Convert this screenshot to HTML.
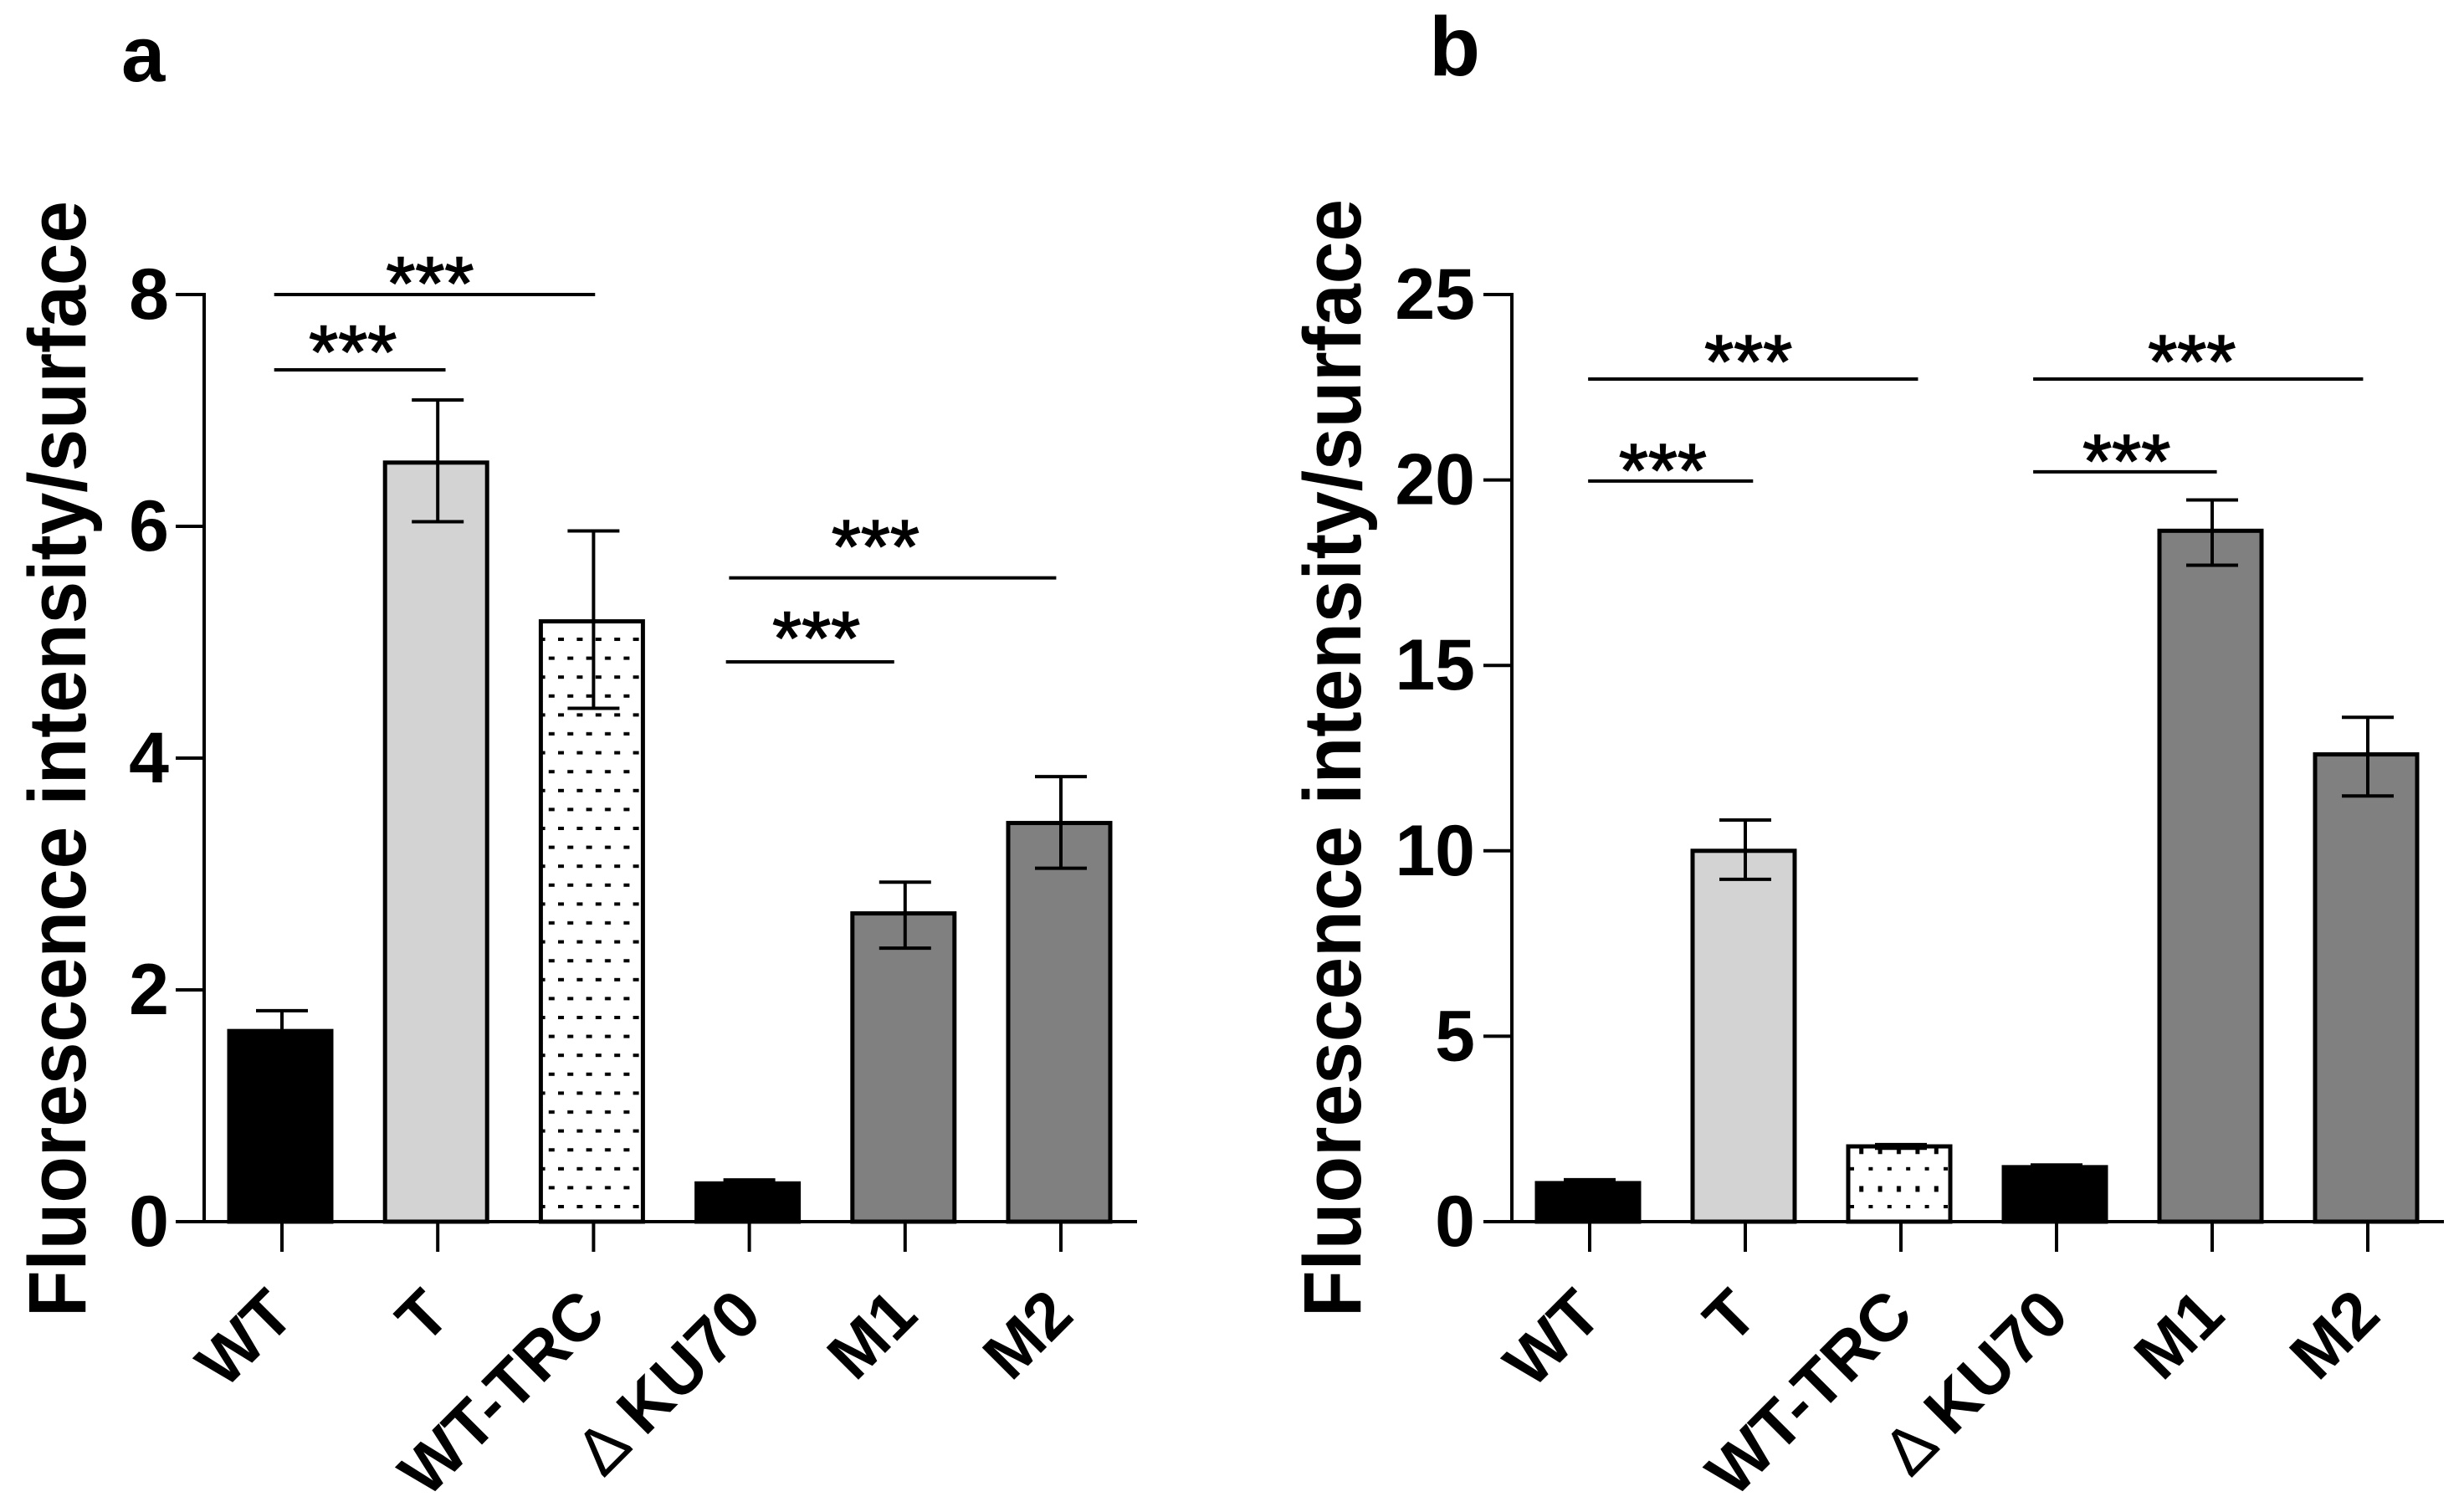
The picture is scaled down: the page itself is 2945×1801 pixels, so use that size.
<!DOCTYPE html>
<html>
<head>
<meta charset="utf-8">
<title>Fluorescence intensity per surface</title>
<style>
html,body{margin:0;padding:0;background:#fff;}
svg{display:block;}
text{font-family:"Liberation Sans",sans-serif;fill:#000;}
</style>
</head>
<body>
<svg id="figure" xmlns="http://www.w3.org/2000/svg" width="2945" height="1801" viewBox="0 0 2945 1801">
<defs>
<pattern id="dotsA" patternUnits="userSpaceOnUse" x="667" y="1440" width="22.4" height="45.2">
<rect x="0" y="0" width="7" height="4" fill="#000"/><rect x="11.2" y="22.6" width="7" height="4" fill="#000"/>
</pattern>
<pattern id="dotsB" patternUnits="userSpaceOnUse" x="2211" y="1440" width="22.4" height="45.2">
<rect x="0" y="0" width="5" height="4" fill="#000"/><rect x="11.2" y="22.6" width="5" height="7" fill="#000"/>
</pattern>
</defs>
</svg>
<script>
const categories = ['WT', 'T', 'WT-TRC', 'KU70', 'M1', 'M2'];
const fills = ['#000000', '#d3d3d3', 'white', '#000000', '#808080', '#808080'];

const ticksA = [0, 2, 4, 6, 8];
const valuesA = [1.645, 6.55, 5.18, 0.33, 2.66, 3.44];
const errHighA = [1.82, 7.09, 5.96, 0.36, 2.93, 3.84];
const errLowA = [1.47, 6.04, 4.43, 0.30, 2.36, 3.05];
const sigFromA = [-0.05, -0.05, 2.87, 2.85];
const sigToA = [2.01, 1.05, 4.97, 3.93];
const sigLevelA = [8, 7.35, 5.555, 4.83];
const sigStarPosA = [0.95, 0.455, 3.81, 3.43];
const sigStarLevelA = [8.19, 7.6, 5.92, 5.13];

const ticksB = [0, 5, 10, 15, 20, 25];
const valuesB = [1.04, 10.0, 2.03, 1.47, 18.63, 12.6];
const errHighB = [1.13, 10.83, 2.08, 1.53, 19.46, 13.6];
const errLowB = [0.95, 9.23, 1.98, 1.4, 17.7, 11.48];
const sigFromB = [-0.01, -0.01, 2.85, 2.85];
const sigToB = [2.11, 1.05, 4.97, 4.03];
const sigLevelB = [22.72, 19.97, 22.72, 20.22];
const sigStarPosB = [1.02, 0.47, 3.87, 3.45];
const sigStarLevelB = [23.49, 20.56, 23.49, 20.8];

const SVGNS = 'http://www.w3.org/2000/svg';
const root = document.getElementById('figure');

function mk(tag, attrs, parent) {
  const node = document.createElementNS(SVGNS, tag);
  for (const k in attrs) node.setAttribute(k, attrs[k]);
  parent.appendChild(node);
  return node;
}

function drawPanel(cfg) {
  const yScale = v => cfg.y0 - (v / cfg.yMax) * (cfg.y0 - cfg.yTop);
  const xScale = i => cfg.x0 + cfg.step * i;

  const panel = mk('g', {}, root);
  
  

  const letter = mk('text', {x: cfg.letterX, y: cfg.letterY, 'font-size': cfg.letterSize, 'font-weight': 'bold'}, panel);
  letter.textContent = cfg.id;
  
  

  const title = mk('text', {
    transform: 'translate(' + cfg.titleX + ',1574) rotate(-90)',
    'font-size': 97, 'font-weight': 'bold', textLength: cfg.titleLen, lengthAdjust: 'spacingAndGlyphs'
  }, panel);
  title.textContent = 'Fluorescence intensity/surface';
  
  

  // bars
  cfg.values.forEach((v, i) => {
    const cx = xScale(i) - 2;
    const top = yScale(v);
    const fill = fills[i] === 'white' ? 'url(#' + cfg.pattern + ')' : fills[i];
    if (fills[i] === 'white') {
      const backing = mk('rect', {x: cx - 61, y: top, width: 122, height: cfg.y0 - top, fill: '#fff'}, panel);
      
      
    }
    const bar = mk('rect', {x: cx - 61, y: top, width: 122, height: cfg.y0 - top, fill: fill, stroke: '#000', 'stroke-width': 5}, panel);
    
    
  });

  // error bars
  cfg.values.forEach((v, i) => {
    const cx = xScale(i);
    const hi = yScale(cfg.errHigh[i]);
    const lo = yScale(cfg.errLow[i]);
    const stem = mk('line', {x1: cx, x2: cx, y1: hi, y2: lo, stroke: '#000', 'stroke-width': 4}, panel);
    
    
    const capTop = mk('line', {x1: cx - 31, x2: cx + 31, y1: hi, y2: hi, stroke: '#000', 'stroke-width': 4}, panel);
    
    
    const capLow = mk('line', {x1: cx - 31, x2: cx + 31, y1: lo, y2: lo, stroke: '#000', 'stroke-width': 4}, panel);
    
    
  });

  // axes
  const yAxis = mk('line', {x1: cfg.axisX, x2: cfg.axisX, y1: yScale(cfg.yMax) - 2, y2: cfg.y0, stroke: '#000', 'stroke-width': 4}, panel);
  
  
  const xAxis = mk('line', {x1: cfg.axisX - 32, x2: cfg.axisEnd, y1: cfg.y0, y2: cfg.y0, stroke: '#000', 'stroke-width': 4}, panel);
  
  

  cfg.ticks.forEach(t => {
    const ty = yScale(t);
    const tick = mk('line', {x1: cfg.axisX - 34, x2: cfg.axisX, y1: ty, y2: ty, stroke: '#000', 'stroke-width': 4}, panel);
    
    
    const label = mk('text', {x: cfg.axisX - cfg.tickGap, y: ty + 29, 'font-size': 86, 'font-weight': 'bold', 'text-anchor': 'end'}, panel);
    label.textContent = String(t);
    
    
  });

  categories.forEach((c, i) => {
    const tx = xScale(i);
    const tick = mk('line', {x1: tx, x2: tx, y1: cfg.y0, y2: cfg.y0 + 36, stroke: '#000', 'stroke-width': 4}, panel);
    
    
    const label = mk('text', {
      transform: 'translate(' + (tx + 18) + ',1575) rotate(-45)',
      'font-size': 79, 'font-weight': 'bold', 'text-anchor': 'end'
    }, panel);
    if (c === 'KU70') {
      const delta = mk('tspan', {'font-weight': 'normal'}, label);
      delta.textContent = '\u0394 ';
      
      
      const rest = mk('tspan', {}, label);
      rest.textContent = c;
      
      
    } else {
      label.textContent = c;
    }
    
    
  });

  // significance annotations
  cfg.sigLevel.forEach((lvl, i) => {
    const ly = yScale(lvl);
    const rule = mk('line', {x1: xScale(cfg.sigFrom[i]), x2: xScale(cfg.sigTo[i]), y1: ly, y2: ly, stroke: '#000', 'stroke-width': 4}, panel);
    
    
    const stars = mk('text', {x: xScale(cfg.sigStarPos[i]), y: yScale(cfg.sigStarLevel[i]) + 44, 'font-size': 90, 'text-anchor': 'middle', stroke: '#000', 'stroke-width': 1.5}, panel);
    stars.textContent = '***';
    
    
  });
}

drawPanel({
  id: 'a', pattern: 'dotsA', x0: 337, step: 186.2, y0: 1460, yTop: 352, yMax: 8,
  axisX: 244, axisEnd: 1359, letterX: 145, letterY: 97, letterSize: 94, titleX: 102, titleLen: 1334, tickGap: 42,
  ticks: ticksA, values: valuesA, errHigh: errHighA, errLow: errLowA,
  sigFrom: sigFromA, sigTo: sigToA, sigLevel: sigLevelA, sigStarPos: sigStarPosA, sigStarLevel: sigStarLevelA
});
drawPanel({
  id: 'b', pattern: 'dotsB', x0: 1900, step: 186, y0: 1460, yTop: 352, yMax: 25,
  axisX: 1807, axisEnd: 2921, letterX: 1708, letterY: 90, letterSize: 100, titleX: 1626, titleLen: 1336, tickGap: 44,
  ticks: ticksB, values: valuesB, errHigh: errHighB, errLow: errLowB,
  sigFrom: sigFromB, sigTo: sigToB, sigLevel: sigLevelB, sigStarPos: sigStarPosB, sigStarLevel: sigStarLevelB
});
</script>
</body>
</html>
